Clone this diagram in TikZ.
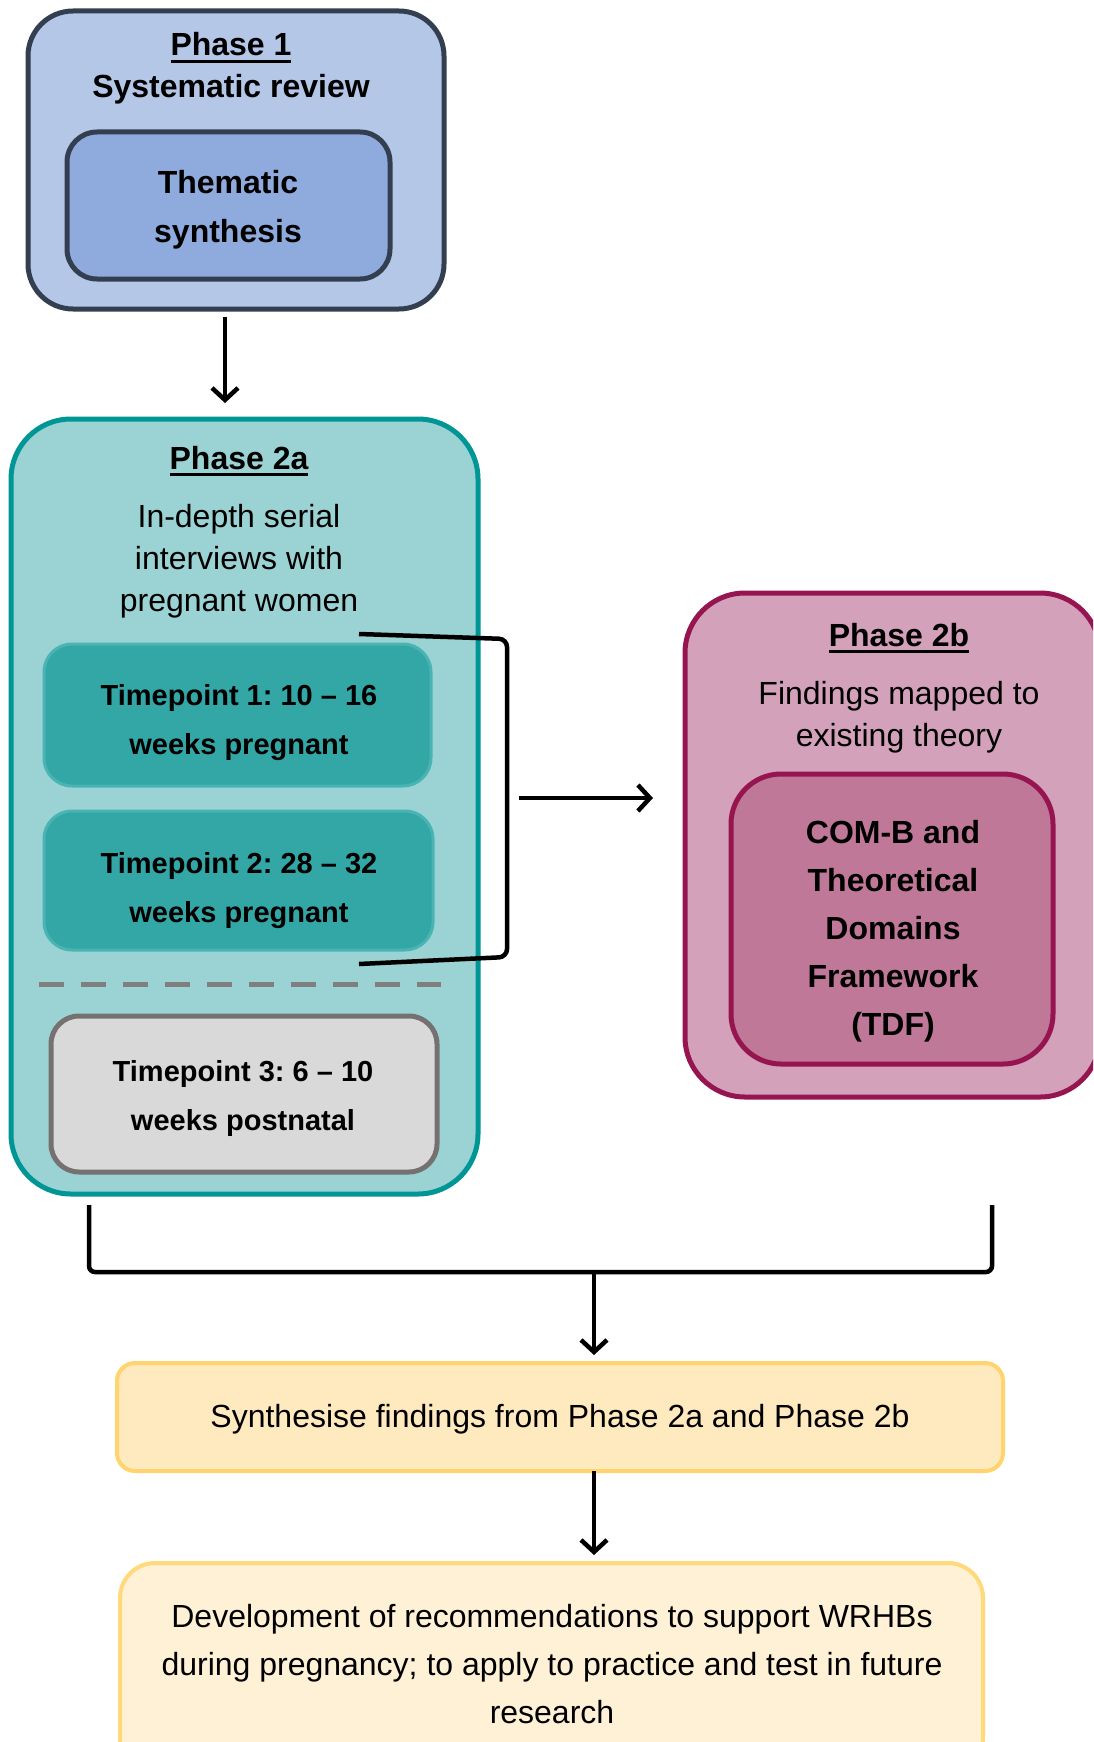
\documentclass[tikz,border=0pt]{standalone}
\usepackage{fontspec}
\setmainfont{Liberation Sans}
\usetikzlibrary{arrows.meta}
\definecolor{p1f}{HTML}{B4C7E7}
\definecolor{p1d}{HTML}{333F50}
\definecolor{p1i}{HTML}{8FAADC}
\definecolor{p2af}{HTML}{9BD3D4}
\definecolor{p2ad}{HTML}{009696}
\definecolor{tpf}{HTML}{33A6A6}
\definecolor{tpd}{HTML}{4AB4B4}
\definecolor{tp3f}{HTML}{D9D9D9}
\definecolor{tp3d}{HTML}{767171}
\definecolor{dashc}{HTML}{7F7F7F}
\definecolor{p2bf}{HTML}{D4A1BB}
\definecolor{p2bd}{HTML}{961450}
\definecolor{p2bi}{HTML}{C07898}
\definecolor{synf}{HTML}{FFE9BE}
\definecolor{synd}{HTML}{FFD46E}
\definecolor{devf}{HTML}{FFF1D6}
\definecolor{devd}{HTML}{FFD97A}
\frenchspacing
\newcommand{\mlines}[1]{\begin{tabular}[t]{@{}c@{}}#1\end{tabular}}
\newcommand{\phul}[1]{\setbox0=\hbox{#1}\rlap{\rule[-7pt]{\wd0}{3pt}}\box0}
\begin{document}
\begin{tikzpicture}[x=1pt,y=-1pt,
  every node/.style={inner sep=0pt, outer sep=0pt},
  box/.style={draw, rectangle, line width=5pt},
  arr/.style={line width=4.5pt, -{Straight Barb[length=12pt,width=26pt]}},
  brk/.style={line width=4.5pt, rounded corners=8pt},
  tb/.style={font=\fontsize{32}{49}\selectfont\bfseries, anchor=base},
  tr/.style={font=\fontsize{32}{42}\selectfont, anchor=base},
  ttp/.style={font=\fontsize{29}{49}\selectfont\bfseries, anchor=base}]
\clip (0,0) rectangle (1093,1742);
\fill[white] (0,0) rectangle (1093,1742);
% Phase 1
\node[box, draw=p1d, fill=p1f, rounded corners=45pt, minimum width=416pt, minimum height=298pt] (p1) at (236,160) {};
\node[box, draw=p1d, fill=p1i, rounded corners=30pt, minimum width=323pt, minimum height=147pt] (p1in) at (228.5,205.5) {};
\node[tb] (t1a) at (231,56) {\phul{Phase 1}};
\node[tb] (t1b) at (231,98) {Systematic review};
\node[tb] (t1c) at (228,193) {\mlines{Thematic\\synthesis}};
% Phase 2a
\node[box, draw=p2ad, fill=p2af, rounded corners=60pt, minimum width=467pt, minimum height=775pt] (p2a) at (244.5,806.5) {};
\node[box, line width=3pt, draw=tpd, fill=tpf, rounded corners=28pt, minimum width=387pt, minimum height=142pt] (tp1) at (237.5,715) {};
\node[box, line width=3pt, draw=tpd, fill=tpf, rounded corners=28pt, minimum width=389pt, minimum height=139pt] (tp2) at (238.5,880.5) {};
\node[box, draw=tp3d, fill=tp3f, rounded corners=28pt, minimum width=386pt, minimum height=156pt] (tp3) at (244,1094) {};
\node[tb] (t2a) at (239,469) {\phul{Phase 2a}};
\node[tr] (t2b) at (239,527) {\mlines{In-depth serial\\interviews with\\pregnant women}};
\node[ttp] (t2c) at (239,705) {\mlines{Timepoint 1: 10 -- 16\\weeks pregnant}};
\node[ttp] (t2d) at (239,873) {\mlines{Timepoint 2: 28 -- 32\\weeks pregnant}};
\node[ttp] (t2e) at (243,1081) {\mlines{Timepoint 3: 6 -- 10\\weeks postnatal}};
\coordinate (dl) at (39,984);
\coordinate (dr) at (441,984);
\draw[dashc, line width=5pt, dash pattern=on 25pt off 17pt] (dl) -- (dr);
% Phase 2b
\node[box, draw=p2bd, fill=p2bf, rounded corners=60pt, minimum width=415pt, minimum height=504pt] (p2b) at (892.5,845) {};
\node[box, draw=p2bd, fill=p2bi, rounded corners=50pt, minimum width=322pt, minimum height=290pt] (comb) at (892,919) {};
\node[tb] (t3a) at (899,646) {\phul{Phase 2b}};
\node[tr] (t3b) at (899,704) {\mlines{Findings mapped to\\existing theory}};
\node[tb, font=\fontsize{32}{48}\selectfont\bfseries] (t3c) at (893,843) {\mlines{COM-B and\\Theoretical\\Domains\\Framework\\(TDF)}};
% bottom boxes
\node[box, line width=4pt, draw=synd, fill=synf, rounded corners=18pt, minimum width=886pt, minimum height=108pt] (syn) at (560,1417) {};
\node[tr] (t4) at (560,1427) {Synthesise findings from Phase 2a and Phase 2b};
\node[box, line width=4pt, draw=devd, fill=devf, rounded corners=35pt, minimum width=863pt, minimum height=210pt] (dev) at (551.5,1668) {};
\node[tr, font=\fontsize{32}{48}\selectfont] (t5) at (552,1627) {\mlines{Development of recommendations to support WRHBs\\during pregnancy; to apply to practice and test in future\\research}};
% connectors
\coordinate (ax) at (225,0);
\draw[arr, shorten <=8pt, shorten >=16pt] (ax |- p1.south) -- (ax |- p2a.north);
\coordinate (bt) at (359,634);
\coordinate (btr) at (507,639);
\coordinate (bbr) at (507,957);
\coordinate (bb) at (359,964);
\draw[brk] (bt) -- (btr) -- (bbr) -- (bb);
\coordinate (bm) at (507,798);
\draw[arr, shorten <=12pt, shorten >=32pt] (bm) -- (bm -| p2b.west);
\coordinate (bl) at (89,1205);
\coordinate (bl2) at (89,1272);
\coordinate (br2) at (992,1272);
\coordinate (br) at (992,1205);
\draw[brk, rounded corners=6pt] (bl) -- (bl2) -- (br2) -- (br);
\coordinate (bj) at (594,1272);
\draw[arr, shorten >=8pt] (bj) -- (bj |- syn.north);
\draw[arr, shorten >=8pt] (syn.south -| bj) -- (dev.north -| bj);
\end{tikzpicture}
\end{document}
